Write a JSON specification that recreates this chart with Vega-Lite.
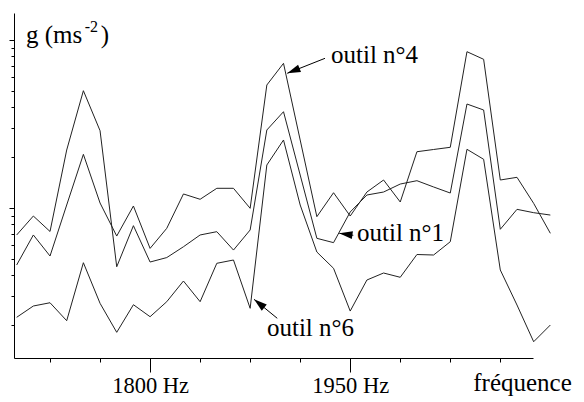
{
  "$schema": "https://vega.github.io/schema/vega-lite/v6.json",
  "width": 519,
  "height": 345,
  "autosize": "none",
  "padding": {"left": 14, "top": 13, "right": 51, "bottom": 44},
  "background": "white",
  "config": {"view": {"stroke": null}, "font": "Liberation Serif"},
  "datasets": {
    "spectra": [
      {"outil": "n°1", "freq": 1700, "g": 0.691}, {"outil": "n°1", "freq": 1712.5, "g": 0.896}, {"outil": "n°1", "freq": 1725, "g": 0.725}, {"outil": "n°1", "freq": 1737.5, "g": 2.214}, {"outil": "n°1", "freq": 1750, "g": 4.992}, {"outil": "n°1", "freq": 1762.5, "g": 2.885}, {"outil": "n°1", "freq": 1775, "g": 0.447}, {"outil": "n°1", "freq": 1787.5, "g": 0.785}, {"outil": "n°1", "freq": 1800, "g": 0.477}, {"outil": "n°1", "freq": 1812.5, "g": 0.507}, {"outil": "n°1", "freq": 1825, "g": 0.588}, {"outil": "n°1", "freq": 1837.5, "g": 0.691}, {"outil": "n°1", "freq": 1850, "g": 0.723}, {"outil": "n°1", "freq": 1862.5, "g": 0.562}, {"outil": "n°1", "freq": 1875, "g": 0.74}, {"outil": "n°1", "freq": 1887.5, "g": 2.913}, {"outil": "n°1", "freq": 1900, "g": 3.743}, {"outil": "n°1", "freq": 1912.5, "g": 1.572}, {"outil": "n°1", "freq": 1925, "g": 0.66}, {"outil": "n°1", "freq": 1937.5, "g": 0.622}, {"outil": "n°1", "freq": 1950, "g": 0.947}, {"outil": "n°1", "freq": 1962.5, "g": 1.195}, {"outil": "n°1", "freq": 1975, "g": 1.245}, {"outil": "n°1", "freq": 1987.5, "g": 1.389}, {"outil": "n°1", "freq": 2000, "g": 1.454}, {"outil": "n°1", "freq": 2012.5, "g": 1.334}, {"outil": "n°1", "freq": 2025, "g": 1.228}, {"outil": "n°1", "freq": 2037.5, "g": 4.159}, {"outil": "n°1", "freq": 2050, "g": 3.831}, {"outil": "n°1", "freq": 2062.5, "g": 0.747}, {"outil": "n°1", "freq": 2075, "g": 0.982}, {"outil": "n°1", "freq": 2087.5, "g": 0.938}, {"outil": "n°1", "freq": 2100, "g": 0.908},
      {"outil": "n°4", "freq": 1700, "g": 0.458}, {"outil": "n°4", "freq": 1712.5, "g": 0.691}, {"outil": "n°4", "freq": 1725, "g": 0.518}, {"outil": "n°4", "freq": 1737.5, "g": 1.042}, {"outil": "n°4", "freq": 1750, "g": 2.087}, {"outil": "n°4", "freq": 1762.5, "g": 1.071}, {"outil": "n°4", "freq": 1775, "g": 0.681}, {"outil": "n°4", "freq": 1787.5, "g": 1.028}, {"outil": "n°4", "freq": 1800, "g": 0.575}, {"outil": "n°4", "freq": 1812.5, "g": 0.757}, {"outil": "n°4", "freq": 1825, "g": 1.212}, {"outil": "n°4", "freq": 1837.5, "g": 1.127}, {"outil": "n°4", "freq": 1850, "g": 1.31}, {"outil": "n°4", "freq": 1862.5, "g": 1.31}, {"outil": "n°4", "freq": 1875, "g": 0.996}, {"outil": "n°4", "freq": 1887.5, "g": 5.397}, {"outil": "n°4", "freq": 1900, "g": 7.265}, {"outil": "n°4", "freq": 1912.5, "g": 2.54}, {"outil": "n°4", "freq": 1925, "g": 0.888}, {"outil": "n°4", "freq": 1937.5, "g": 1.233}, {"outil": "n°4", "freq": 1950, "g": 0.896}, {"outil": "n°4", "freq": 1962.5, "g": 1.245}, {"outil": "n°4", "freq": 1975, "g": 1.468}, {"outil": "n°4", "freq": 1987.5, "g": 1.086}, {"outil": "n°4", "freq": 2000, "g": 2.163}, {"outil": "n°4", "freq": 2012.5, "g": 2.23}, {"outil": "n°4", "freq": 2025, "g": 2.298}, {"outil": "n°4", "freq": 2037.5, "g": 8.52}, {"outil": "n°4", "freq": 2050, "g": 7.677}, {"outil": "n°4", "freq": 2062.5, "g": 1.468}, {"outil": "n°4", "freq": 2075, "g": 1.523}, {"outil": "n°4", "freq": 2087.5, "g": 1.066}, {"outil": "n°4", "freq": 2100, "g": 0.707},
      {"outil": "n°6", "freq": 1700, "g": 0.2236}, {"outil": "n°6", "freq": 1712.5, "g": 0.261}, {"outil": "n°6", "freq": 1725, "g": 0.273}, {"outil": "n°6", "freq": 1737.5, "g": 0.2134}, {"outil": "n°6", "freq": 1750, "g": 0.4725}, {"outil": "n°6", "freq": 1762.5, "g": 0.2708}, {"outil": "n°6", "freq": 1775, "g": 0.182}, {"outil": "n°6", "freq": 1787.5, "g": 0.2657}, {"outil": "n°6", "freq": 1800, "g": 0.2254}, {"outil": "n°6", "freq": 1812.5, "g": 0.2769}, {"outil": "n°6", "freq": 1825, "g": 0.3677}, {"outil": "n°6", "freq": 1837.5, "g": 0.2769}, {"outil": "n°6", "freq": 1850, "g": 0.4687}, {"outil": "n°6", "freq": 1862.5, "g": 0.4903}, {"outil": "n°6", "freq": 1875, "g": 0.2529}, {"outil": "n°6", "freq": 1887.5, "g": 1.803}, {"outil": "n°6", "freq": 1900, "g": 2.54}, {"outil": "n°6", "freq": 1912.5, "g": 1.042}, {"outil": "n°6", "freq": 1925, "g": 0.547}, {"outil": "n°6", "freq": 1937.5, "g": 0.4377}, {"outil": "n°6", "freq": 1950, "g": 0.2436}, {"outil": "n°6", "freq": 1962.5, "g": 0.3728}, {"outil": "n°6", "freq": 1975, "g": 0.4103}, {"outil": "n°6", "freq": 1987.5, "g": 0.3869}, {"outil": "n°6", "freq": 2000, "g": 0.5287}, {"outil": "n°6", "freq": 2012.5, "g": 0.5251}, {"outil": "n°6", "freq": 2025, "g": 0.63}, {"outil": "n°6", "freq": 2037.5, "g": 2.236}, {"outil": "n°6", "freq": 2050, "g": 1.95}, {"outil": "n°6", "freq": 2062.5, "g": 0.4276}, {"outil": "n°6", "freq": 2075, "g": 0.2646}, {"outil": "n°6", "freq": 2087.5, "g": 0.16}, {"outil": "n°6", "freq": 2100, "g": 0.2012}
    ],
    "labels": [
      {"text": "outil n°4", "freq": 1935.6, "g": 7.25},
      {"text": "outil n°1", "freq": 1955.1, "g": 0.639},
      {"text": "outil n°6", "freq": 1887.6, "g": 0.173},
      {"text": "g (ms", "freq": 1707.0, "g": 9.64},
      {"text": ")", "freq": 1763.0, "g": 9.64}
    ],
    "sup": [
      {"text": "-2", "freq": 1751.0, "g": 11.2}
    ],
    "arrows": [
      {"outil": "n°4", "freq": 1931.1, "g": 7.78, "freq2": 1902.8, "g2": 6.337, "angle": 248.3},
      {"outil": "n°1", "freq": 1952.3, "g": 0.688, "freq2": 1941.8, "g2": 0.707, "angle": 278.1},
      {"outil": "n°6", "freq": 1895.3, "g": 0.2206, "freq2": 1877.9, "g2": 0.2861, "angle": 309.2}
    ]
  },
  "layer": [
    {
      "data": {"name": "spectra"},
      "mark": {"type": "line", "stroke": "#222222", "strokeWidth": 1, "clip": false},
      "encoding": {
        "x": {
          "field": "freq", "type": "quantitative",
          "scale": {"domain": [1698, 2087], "nice": false, "zero": false},
          "axis": {
            "values": [1725, 1762.5, 1800, 1837.5, 1875, 1912.5, 1950, 1987.5, 2025, 2062.5],
            "labelExpr": "datum.value == 1800 ? '1800 Hz' : (datum.value == 1950 ? '1950 Hz' : '')",
            "labelFont": "Liberation Serif", "labelFontSize": 22.5, "labelColor": "black",
            "labelBaseline": "alphabetic", "labelPadding": 20, "labelOverlap": false, "labelFlush": false,
            "tickSize": {"condition": {"test": "datum.value == 1800 || datum.value == 1950", "value": 14}, "value": 4},
            "tickColor": "black", "domainColor": "black", "grid": false,
            "title": "fréquence", "titleFont": "Liberation Serif", "titleFontSize": 25, "titleFontWeight": "normal",
            "titleColor": "black", "titleX": 508, "titleY": 32, "titleAlign": "center", "titleBaseline": "alphabetic"
          }
        },
        "y": {
          "field": "g", "type": "quantitative",
          "scale": {"type": "log", "domain": [0.128, 14.48], "nice": false},
          "axis": {
            "values": [0.2, 0.3, 0.4, 0.5, 0.6, 0.7, 0.8, 0.9, 1, 2, 3, 4, 5, 6, 7, 8, 9, 10],
            "labels": false, "title": null, "grid": false,
            "tickSize": {"condition": {"test": "datum.value == 1 || datum.value == 10", "value": 5}, "value": 3},
            "tickColor": "black", "domainColor": "black"
          }
        },
        "detail": {"field": "outil"}
      }
    },
    {
      "data": {"name": "arrows"},
      "mark": {"type": "rule", "stroke": "black", "strokeWidth": 1},
      "encoding": {
        "x": {"field": "freq", "type": "quantitative"},
        "y": {"field": "g", "type": "quantitative"},
        "x2": {"field": "freq2"},
        "y2": {"field": "g2"}
      }
    },
    {
      "data": {"name": "arrows"},
      "mark": {"type": "point", "shape": "M0,0L0.3,1L-0.3,1Z", "filled": true, "fill": "black", "stroke": null, "opacity": 1, "size": 700},
      "encoding": {
        "x": {"field": "freq2", "type": "quantitative"},
        "y": {"field": "g2", "type": "quantitative"},
        "angle": {"field": "angle", "type": "quantitative", "scale": null}
      }
    },
    {
      "data": {"name": "labels"},
      "mark": {"type": "text", "align": "left", "baseline": "alphabetic", "font": "Liberation Serif", "fontSize": 25, "fill": "black"},
      "encoding": {
        "x": {"field": "freq", "type": "quantitative"},
        "y": {"field": "g", "type": "quantitative"},
        "text": {"field": "text"}
      }
    },
    {
      "data": {"name": "sup"},
      "mark": {"type": "text", "align": "left", "baseline": "alphabetic", "font": "Liberation Serif", "fontSize": 16, "fill": "black"},
      "encoding": {
        "x": {"field": "freq", "type": "quantitative"},
        "y": {"field": "g", "type": "quantitative"},
        "text": {"field": "text"}
      }
    }
  ]
}
